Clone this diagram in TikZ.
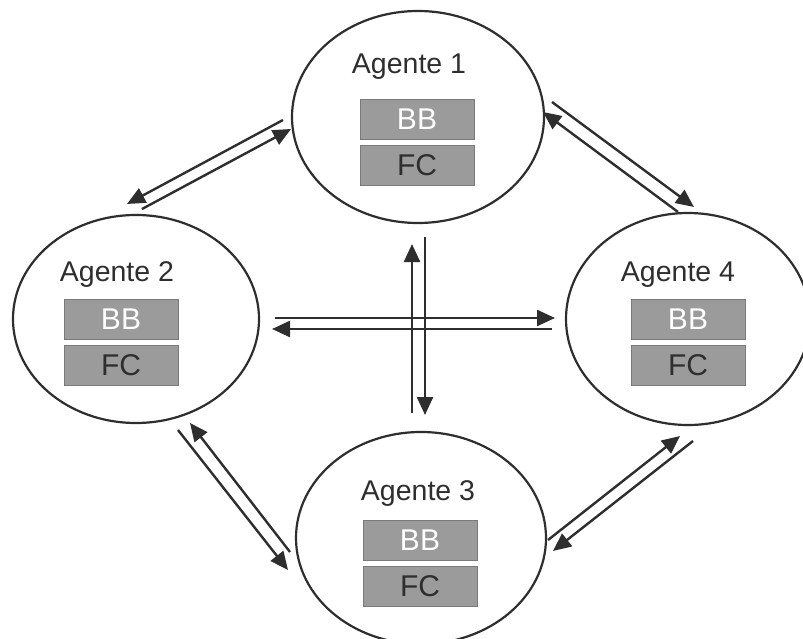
\documentclass[tikz,border=0pt]{standalone}
\usepackage{fontspec}
\setmainfont{Liberation Sans}
\usetikzlibrary{shapes.geometric,arrows.meta}
\definecolor{ink}{HTML}{2E2E2E}
\definecolor{boxfill}{HTML}{9B9B9B}
\definecolor{boxline}{HTML}{7A7A7A}
\tikzset{
  agent/.style={ellipse, draw=ink, line width=2.2pt, inner sep=0pt},
  title/.style={font=\fontsize{28.5}{28.5}\selectfont, text=ink, inner sep=0pt},
  slot/.style={rectangle, draw=boxline, line width=0.9pt, fill=boxfill,
    minimum width=114pt, minimum height=40pt, inner sep=0pt,
    font=\fontsize{30}{30}\selectfont},
  bb/.style={slot, text=white},
  fc/.style={slot, text=ink},
  msg/.style={draw=ink, line width=2.4pt,
    -{Triangle[length=18pt,width=16pt]}}
}
\begin{document}
\begin{tikzpicture}[x=1pt,y=-1pt]
\useasboundingbox (0,0) rectangle (803,639);

% agents
\node[agent, minimum width=252pt, minimum height=212pt] (a1) at (418,117) {};
\node[agent, minimum width=246pt, minimum height=208pt] (a2) at (136,319) {};
\node[agent, minimum width=250pt, minimum height=212pt] (a3) at (421,538) {};
\node[agent, minimum width=244pt, minimum height=212pt] (a4) at (688,319) {};

% labels and knowledge slots
\node[title] (t1) at (409,67) {Agente 1};
\node[bb] (b1) at (417,119) {BB};
\node[fc] (f1) at (417,165) {FC};

\node[title] (t2) at (117,275) {Agente 2};
\node[bb] (b2) at (121,319) {BB};
\node[fc] (f2) at (121,365) {FC};

\node[title] (t3) at (418,494) {Agente 3};
\node[bb] (b3) at (420,540) {BB};
\node[fc] (f3) at (420,586) {FC};

\node[title] (t4) at (678,275) {Agente 4};
\node[bb] (b4) at (688,319) {BB};
\node[fc] (f4) at (688,365) {FC};

% message end points
\coordinate (p12s) at (283,120); \coordinate (p12e) at (127,204);
\coordinate (p21s) at (142,209); \coordinate (p21e) at (291,129);
\coordinate (p14s) at (552,102); \coordinate (p14e) at (694,207);
\coordinate (p41s) at (678,212); \coordinate (p41e) at (543,112);
\coordinate (p24s) at (275,318); \coordinate (p24e) at (555,318);
\coordinate (p42s) at (552,329); \coordinate (p42e) at (272,329);
\coordinate (p31s) at (412,413); \coordinate (p31e) at (412,244);
\coordinate (p13s) at (425,237); \coordinate (p13e) at (425,415);
\coordinate (p23s) at (178,430); \coordinate (p23e) at (288,570);
\coordinate (p32s) at (290,552); \coordinate (p32e) at (190,423);
\coordinate (p34s) at (548,540); \coordinate (p34e) at (680,436);
\coordinate (p43s) at (693,441); \coordinate (p43e) at (553,551);

% messages
\draw[msg] (p12s) -- (p12e);
\draw[msg] (p21s) -- (p21e);
\draw[msg] (p14s) -- (p14e);
\draw[msg] (p41s) -- (p41e);
\draw[msg] (p24s) -- (p24e);
\draw[msg] (p42s) -- (p42e);
\draw[msg] (p31s) -- (p31e);
\draw[msg] (p13s) -- (p13e);
\draw[msg] (p23s) -- (p23e);
\draw[msg] (p32s) -- (p32e);
\draw[msg] (p34s) -- (p34e);
\draw[msg] (p43s) -- (p43e);
\end{tikzpicture}
\end{document}
